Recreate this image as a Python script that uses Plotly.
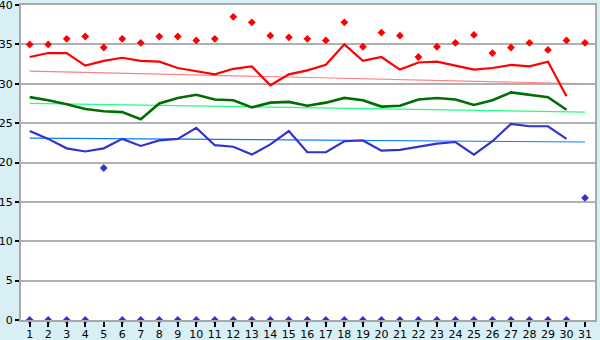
import plotly.graph_objects as go

days = list(range(1, 32))
day_labels = [str(d) for d in days]

# Red markers (daily extreme max)
max_points = [35.0, 35.0, 35.7, 36.0, 34.6, 35.7, 35.2, 36.0, 36.0, 35.5,
              35.7, 38.5, 37.8, 36.1, 35.9, 35.7, 35.5, 37.8, 34.7, 36.5,
              36.1, 33.4, 34.7, 35.2, 36.2, 33.9, 34.6, 35.2, 34.3, 35.5, 35.2]
# Red line (max temperature)
max_line = [33.4, 33.9, 33.9, 32.3, 32.9, 33.3, 32.9, 32.8, 32.0, 31.6,
            31.2, 31.9, 32.2, 29.8, 31.2, 31.7, 32.4, 35.0, 32.9, 33.4,
            31.8, 32.7, 32.8, 32.3, 31.8, 32.0, 32.4, 32.2, 32.8, 28.4, None]
# Green line (mean temperature)
mean_line = [28.3, 27.9, 27.4, 26.8, 26.5, 26.4, 25.5, 27.5, 28.2, 28.6,
             28.0, 27.9, 27.0, 27.6, 27.7, 27.2, 27.6, 28.2, 27.9, 27.1,
             27.2, 28.0, 28.2, 28.0, 27.3, 27.9, 28.9, 28.6, 28.3, 26.7, None]
# Blue line (min temperature)
min_line = [24.0, 23.0, 21.8, 21.4, 21.8, 23.0, 22.1, 22.8, 23.0, 24.4,
            22.2, 22.0, 21.0, 22.3, 24.0, 21.3, 21.3, 22.7, 22.8, 21.5,
            21.6, 22.0, 22.4, 22.6, 21.0, 22.7, 24.9, 24.6, 24.6, 23.0, None]
# Blue markers (daily extreme min)
min_points = [0, 0, 0, 0, 19.3, 0, 0, 0, 0, 0,
              0, 0, 0, 0, 0, 0, 0, 0, 0, 0,
              0, 0, 0, 0, 0, 0, 0, 0, 0, 0, 15.5]
# Normal (trend) lines: values at day 1 and day 31
trend_days = [1, 31]
max_normal = [31.6, 30.0]
mean_normal = [27.5, 26.4]
min_normal = [23.1, 22.6]

fig = go.Figure()

fig.add_trace(go.Scatter(x=trend_days, y=max_normal, mode="lines",
                         line=dict(color="#ff8080", width=1.2), cliponaxis=False))
fig.add_trace(go.Scatter(x=trend_days, y=mean_normal, mode="lines",
                         line=dict(color="#22ff88", width=1.2), cliponaxis=False))
fig.add_trace(go.Scatter(x=trend_days, y=min_normal, mode="lines",
                         line=dict(color="#0a7cff", width=1.2), cliponaxis=False))

fig.add_trace(go.Scatter(x=days, y=max_line, mode="lines",
                         line=dict(color="#ff0000", width=2.2)))
fig.add_trace(go.Scatter(x=days, y=mean_line, mode="lines",
                         line=dict(color="#006e00", width=2.6)))
fig.add_trace(go.Scatter(x=days, y=min_line, mode="lines",
                         line=dict(color="#3333cc", width=2.2)))

fig.add_trace(go.Scatter(x=days, y=max_points, mode="markers",
                         marker=dict(symbol="diamond", size=6, color="#ff0000"),
                         cliponaxis=False))
fig.add_trace(go.Scatter(x=days, y=min_points, mode="markers",
                         marker=dict(symbol="diamond", size=6, color="#3333cc"),
                         cliponaxis=False))

font = dict(family="DejaVu Sans", size=11, color="#000000")

fig.update_layout(
    width=600, height=340,
    margin=dict(l=21, r=5, t=5, b=20, autoexpand=False),
    paper_bgcolor="#d9eff6",
    plot_bgcolor="#ffffff",
    showlegend=False,
    font=font,
    xaxis=dict(range=[0.53, 31.54], tickmode="array", tickvals=days,
               ticktext=day_labels, ticks="outside", ticklen=5,
               tickcolor="#000000", tickwidth=1.5, ticklabelstandoff=-2,
               ticklabeloverflow="allow",
               showgrid=False, zeroline=False, automargin=False,
               showline=True, linecolor="#a8a8a8", linewidth=2, mirror=True,
               tickfont=font, fixedrange=True),
    yaxis=dict(range=[0, 40], dtick=5, ticks="outside", ticklen=4,
               tickcolor="#000000", tickwidth=1.5, automargin=False,
               ticklabeloverflow="allow",
               showgrid=True, gridcolor="#b0b0b0", gridwidth=1.5,
               zeroline=False,
               showline=True, linecolor="#a8a8a8", linewidth=2, mirror=True,
               tickfont=font, fixedrange=True),
)

fig.write_html("out.html", config={"displayModeBar": False})
